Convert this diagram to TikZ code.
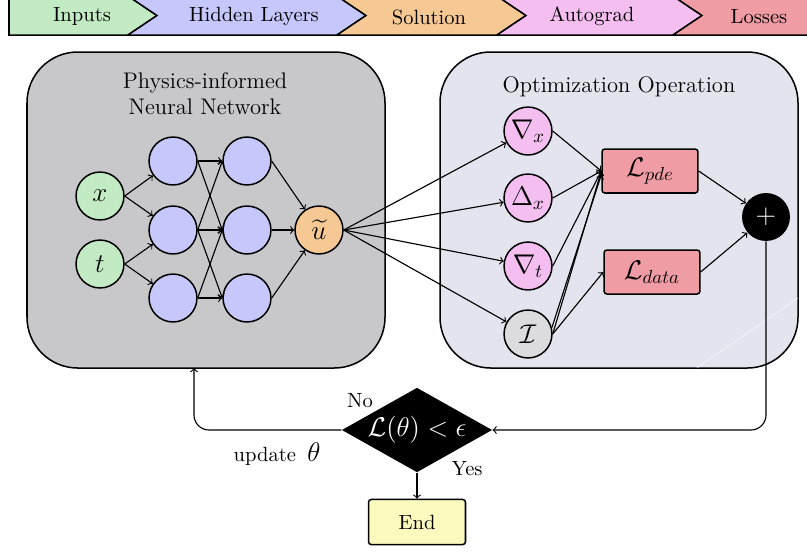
\documentclass[tikz,border=0pt,11pt]{standalone}
\usepackage{amsmath}
\usepackage{tikz}
\usetikzlibrary{shapes.geometric}

\definecolor{inpcol}{RGB}{194,235,196}
\definecolor{hidcol}{RGB}{198,200,252}
\definecolor{solcol}{RGB}{245,200,148}
\definecolor{autcol}{RGB}{245,190,240}
\definecolor{losscol}{RGB}{240,156,164}
\definecolor{pinnbg}{RGB}{200,200,202}
\definecolor{optbg}{RGB}{228,228,238}
\definecolor{idcol}{RGB}{220,220,222}
\definecolor{endcol}{RGB}{250,250,190}

\begin{document}
\begin{tikzpicture}[x=0.532pt, y=-0.532pt,
    neuron/.style={circle, draw, thick, minimum size=25.5pt, inner sep=0pt, font=\Large},
    lossbox/.style={rectangle, draw, thick, rounded corners=1.5pt, fill=losscol, minimum width=51pt, minimum height=23.4pt, font=\Large},
    edge/.style={->, semithick}]
        \useasboundingbox (0,0) rectangle (807,552);
        \clip (0,0) rectangle (807,552);

        % Draw the banner
        \draw[thick, fill=inpcol] (9,-4) -- (9,35) -- (128,35) -- (157,15.5) -- (128,-4) -- cycle;
        \draw[thick, fill=hidcol] (128,-4) -- (157,15.5) -- (128,35) -- (337,35) -- (366,15.5) -- (337,-4) -- cycle;
        \draw[thick, fill=solcol] (337,-4) -- (366,15.5) -- (337,35) -- (497,35) -- (526,15.5) -- (497,-4) -- cycle;
        \draw[thick, fill=autcol] (497,-4) -- (526,15.5) -- (497,35) -- (673,35) -- (702,15.5) -- (673,-4) -- cycle;
        \draw[thick, fill=losscol] (673,-4) -- (702,15.5) -- (673,35) -- (830,35) -- (830,-4) -- cycle;
        \node at (82,16) {Inputs};
        \node at (254,16) {Hidden Layers};
        \node at (429,17) {Solution};
        \node at (592,16) {Autograd};
        \node at (759,17) {Losses};

        % Draw the two blocks
        \draw[thick, fill=pinnbg, rounded corners=27pt] (27,52) rectangle (385,368);
        \node[align=center, font=\large] (pinntitle) at (205,94) {Physics-informed\\Neural Network};
        \draw[thick, fill=optbg, rounded corners=27pt] (440,52) rectangle (798,368);
        \node[font=\large] (opttitle) at (619,87) {Optimization Operation};
        \draw[white, very thin] (697,368) -- (798,298);

        % Draw the network
        \node[neuron, fill=inpcol] (x) at (100,196) {$x$};
        \node[neuron, fill=inpcol] (t) at (100,264) {$t$};
        \node[neuron, fill=hidcol] (h11) at (173,161) {};
        \node[neuron, fill=hidcol] (h12) at (173,230) {};
        \node[neuron, fill=hidcol] (h13) at (173,298) {};
        \node[neuron, fill=hidcol] (h21) at (247,161) {};
        \node[neuron, fill=hidcol] (h22) at (247,230) {};
        \node[neuron, fill=hidcol] (h23) at (247,298) {};
        \node[neuron, fill=solcol] (u) at (319,230) {$\widetilde{u}$};

        \draw[edge] (x.east) -- (h11);
        \draw[edge] (x.east) -- (h12);
        \draw[edge] (t.east) -- (h12);
        \draw[edge] (t.east) -- (h13);
        \draw[edge] (h11.east) -- (h21.west);
        \draw[edge] (h11.east) -- (h22.west);
        \draw[edge] (h12.east) -- (h21.west);
        \draw[edge] (h12.east) -- (h22.west);
        \draw[edge] (h12.east) -- (h23.west);
        \draw[edge] (h13.east) -- (h22.west);
        \draw[edge] (h13.east) -- (h23.west);
        \draw[edge] (h21.east) -- (u);
        \draw[edge] (h22.east) -- (u);
        \draw[edge] (h23.east) -- (u);

        % Draw the autograd nodes and losses
        \node[neuron, fill=autcol] (gradx) at (528,131) {$\nabla_x$};
        \node[neuron, fill=autcol] (lapx) at (528,198) {$\Delta_x$};
        \node[neuron, fill=autcol] (gradt) at (528,266) {$\nabla_t$};
        \node[neuron, fill=idcol] (ident) at (528,334) {$\mathcal{I}$};
        \node[lossbox] (lpde) at (650,171) {$\mathcal{L}_{pde}$};
        \node[lossbox] (ldata) at (652,272) {$\mathcal{L}_{data}$};
        \node[circle, fill=black, text=white, minimum size=25.5pt, inner sep=0pt, font=\Large] (plus) at (766,217) {$+$};

        \draw[edge] (u.east) -- (gradx);
        \draw[edge] (u.east) -- (lapx);
        \draw[edge] (u.east) -- (gradt);
        \draw[edge] (u.east) -- (ident);
        \draw[edge] (gradx.east) -- (lpde.west);
        \draw[edge] (lapx.east) -- (lpde.west);
        \draw[edge] (gradt.east) -- (lpde.west);
        \draw[edge] (ident.east) -- (lpde.west);
        \draw[edge] (ident.15) -- ([yshift=-2pt]lpde.west);
        \draw[edge] (ident.east) -- (ldata.west);
        \draw[edge] (lpde.east) -- (plus);
        \draw[edge] (ldata.east) -- (plus);

        % Draw the stopping test
        \node[diamond, fill=black, text=white, font=\Large, inner sep=0pt, shape aspect=1.76, minimum width=80pt, minimum height=45pt] (cond) at (417,430) {$\mathcal{L}(\theta) < \epsilon$};
        \node[rectangle, draw, thick, rounded corners=1.5pt, fill=endcol, minimum width=51.6pt, minimum height=24pt] (end) at (417,522) {End};
        \coordinate (upd) at (194,368);

        \draw[edge, rounded corners=8pt] (plus) |- (cond.east);
        \draw[edge, rounded corners=8pt] (cond.west) -| (upd);
        \draw[edge] (cond.south) -- (end.north);
        \node at (360,401) {No};
        \node at (467,469) {Yes};
        \node at (277,454) {update \Large$\,\theta$};
    \end{tikzpicture}
\end{document}
